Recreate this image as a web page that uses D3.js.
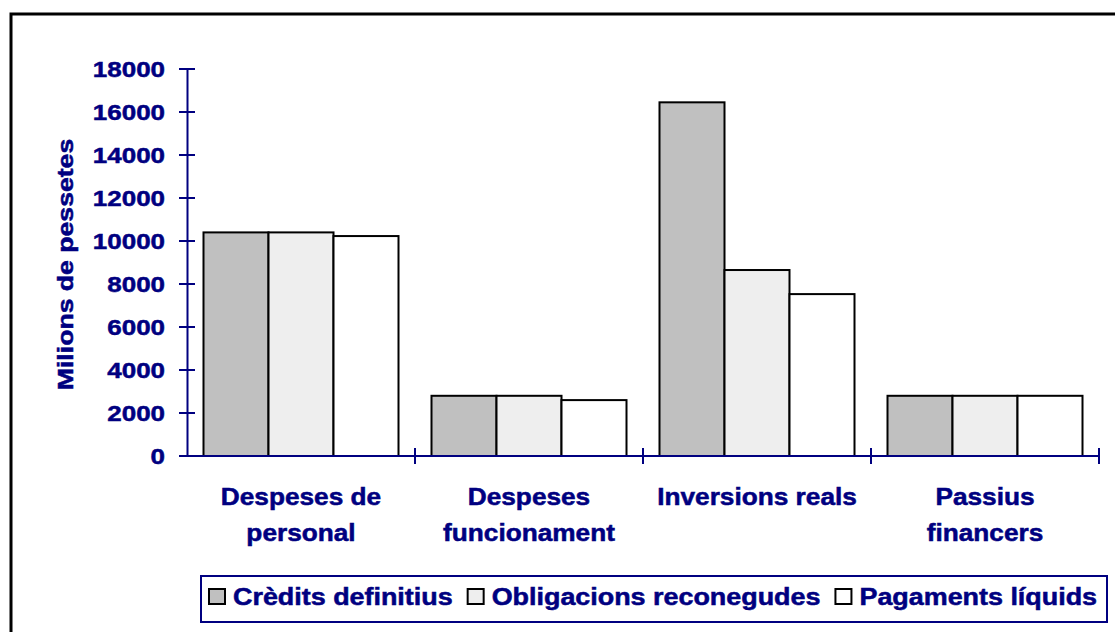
<!DOCTYPE html>
<html>
<head>
<meta charset="utf-8">
<script src="https://cdn.jsdelivr.net/npm/d3@7"></script>
<style>
body { margin: 0; background: #fff; }
svg { display: block; }
text { font-family: "Liberation Sans", Arial, sans-serif; font-weight: bold; fill: #000080; stroke: #000080; stroke-width: 0.5px; }
</style>
</head>
<body>
<svg id="chart" width="1115" height="632"></svg>
<script>
// data
var categories = ["Despeses de personal", "Despeses funcionament", "Inversions reals", "Passius financers"];
var categoryLines = [["Despeses de", "personal"], ["Despeses", "funcionament"], ["Inversions reals"], ["Passius", "financers"]];
var seriesNames = ["Crèdits definitius", "Obligacions reconegudes", "Pagaments líquids"];
var creditsDefinitius = [10400, 2800, 16450, 2800];
var obligacionsReconegudes = [10400, 2800, 8650, 2800];
var pagamentsLiquids = [10230, 2600, 7530, 2800];
var seriesColors = ["#c0c0c0", "#eeeeee", "#ffffff"];
var yTicks = [0, 2000, 4000, 6000, 8000, 10000, 12000, 14000, 16000, 18000];
var yTitle = "Milions de pessetes";

var navy = "#000080";
var svg = d3.select("#chart");

var x0 = 187, x1 = 1099, yBase = 456, yTop = 69;

var x = d3.scaleBand()
	.domain(categories)
	.range([x0, x1])
	.padding(0);

var xs = d3.scaleBand()
	.domain(seriesNames)
	.range([16.5, x.bandwidth() - 16.5])
	.padding(0);

var y = d3.scaleLinear()
	.domain([0, 18000])
	.range([yBase, yTop]);

// stretched text, the original is wider than Arial
function label(parent, px, py, str, size, sx, rot) {
	return parent.append("text")
		.attr("transform", "translate(" + px + "," + py + ") rotate(" + (rot || 0) + ") scale(" + sx + ",1)")
		.style("font-size", size + "px")
		.text(str);
}

// outer frame (cut off on right and bottom)
svg.append("rect")
	.attr("x", 11).attr("y", 14)
	.attr("width", 1300).attr("height", 800)
	.attr("fill", "none")
	.attr("stroke", "#000")
	.attr("stroke-width", 3);

/* BARS */
var values = [creditsDefinitius, obligacionsReconegudes, pagamentsLiquids];
var rows = [];
categories.forEach(function(c, i) {
	seriesNames.forEach(function(s, j) {
		rows.push({cat: c, series: s, value: values[j][i], color: seriesColors[j]});
	});
});

svg.append("g").selectAll("rect")
	.data(rows)
	.enter()
	.append("rect")
	.attr("x", function(d) { return x(d.cat) + xs(d.series); })
	.attr("y", function(d) { return y(d.value); })
	.attr("width", xs.bandwidth())
	.attr("height", function(d) { return yBase - y(d.value); })
	.attr("fill", function(d) { return d.color; })
	.attr("stroke", "#000")
	.attr("stroke-width", 2);

/* Y AXIS */
var yAxis = svg.append("g")
	.attr("transform", "translate(" + x0 + ",0)")
	.call(d3.axisLeft(y).tickValues(yTicks).tickSize(0).tickFormat(""));
yAxis.select(".domain").attr("stroke", navy).attr("stroke-width", 2);
yAxis.selectAll(".tick line").remove();

var yt = svg.append("g");
yTicks.forEach(function(t) {
	yt.append("line")
		.attr("x1", x0 - 8).attr("x2", x0 + 8)
		.attr("y1", y(t)).attr("y2", y(t))
		.attr("stroke", navy).attr("stroke-width", 2);
	label(yt, 165, y(t) + 8, t, 22, 1.18).attr("text-anchor", "end");
});

label(svg, 73, (yBase + yTop) / 2 + 2, yTitle, 22, 1.21, -90).attr("text-anchor", "middle");

/* X AXIS */
svg.append("line")
	.attr("x1", x0).attr("x2", x1)
	.attr("y1", yBase).attr("y2", yBase)
	.attr("stroke", navy).attr("stroke-width", 2);

var bounds = categories.map(function(c) { return x(c); }).concat([x1]);
bounds.forEach(function(b, i) {
	if (i === 0) return;
	svg.append("line")
		.attr("x1", b).attr("x2", b)
		.attr("y1", yBase - 8).attr("y2", yBase + 8)
		.attr("stroke", navy).attr("stroke-width", 2);
});

categories.forEach(function(c, i) {
	var cx = x(c) + x.bandwidth() / 2;
	categoryLines[i].forEach(function(line, k) {
		label(svg, cx, 505 + k * 36, line, 23, 1.14).attr("text-anchor", "middle");
	});
});

/* LEGEND */
svg.append("rect")
	.attr("x", 201).attr("y", 576)
	.attr("width", 906).attr("height", 46)
	.attr("fill", "#fff")
	.attr("stroke", navy)
	.attr("stroke-width", 2);

var lx = 209;
seriesNames.forEach(function(s, j) {
	svg.append("rect")
		.attr("x", lx).attr("y", 589)
		.attr("width", 16).attr("height", 15)
		.attr("fill", seriesColors[j])
		.attr("stroke", "#000")
		.attr("stroke-width", 2);
	var t = label(svg, lx + 24, 605, s, 23, 1.17);
	lx = lx + 24 + t.node().getComputedTextLength() * 1.17 + 15;
});
</script>
</body>
</html>
